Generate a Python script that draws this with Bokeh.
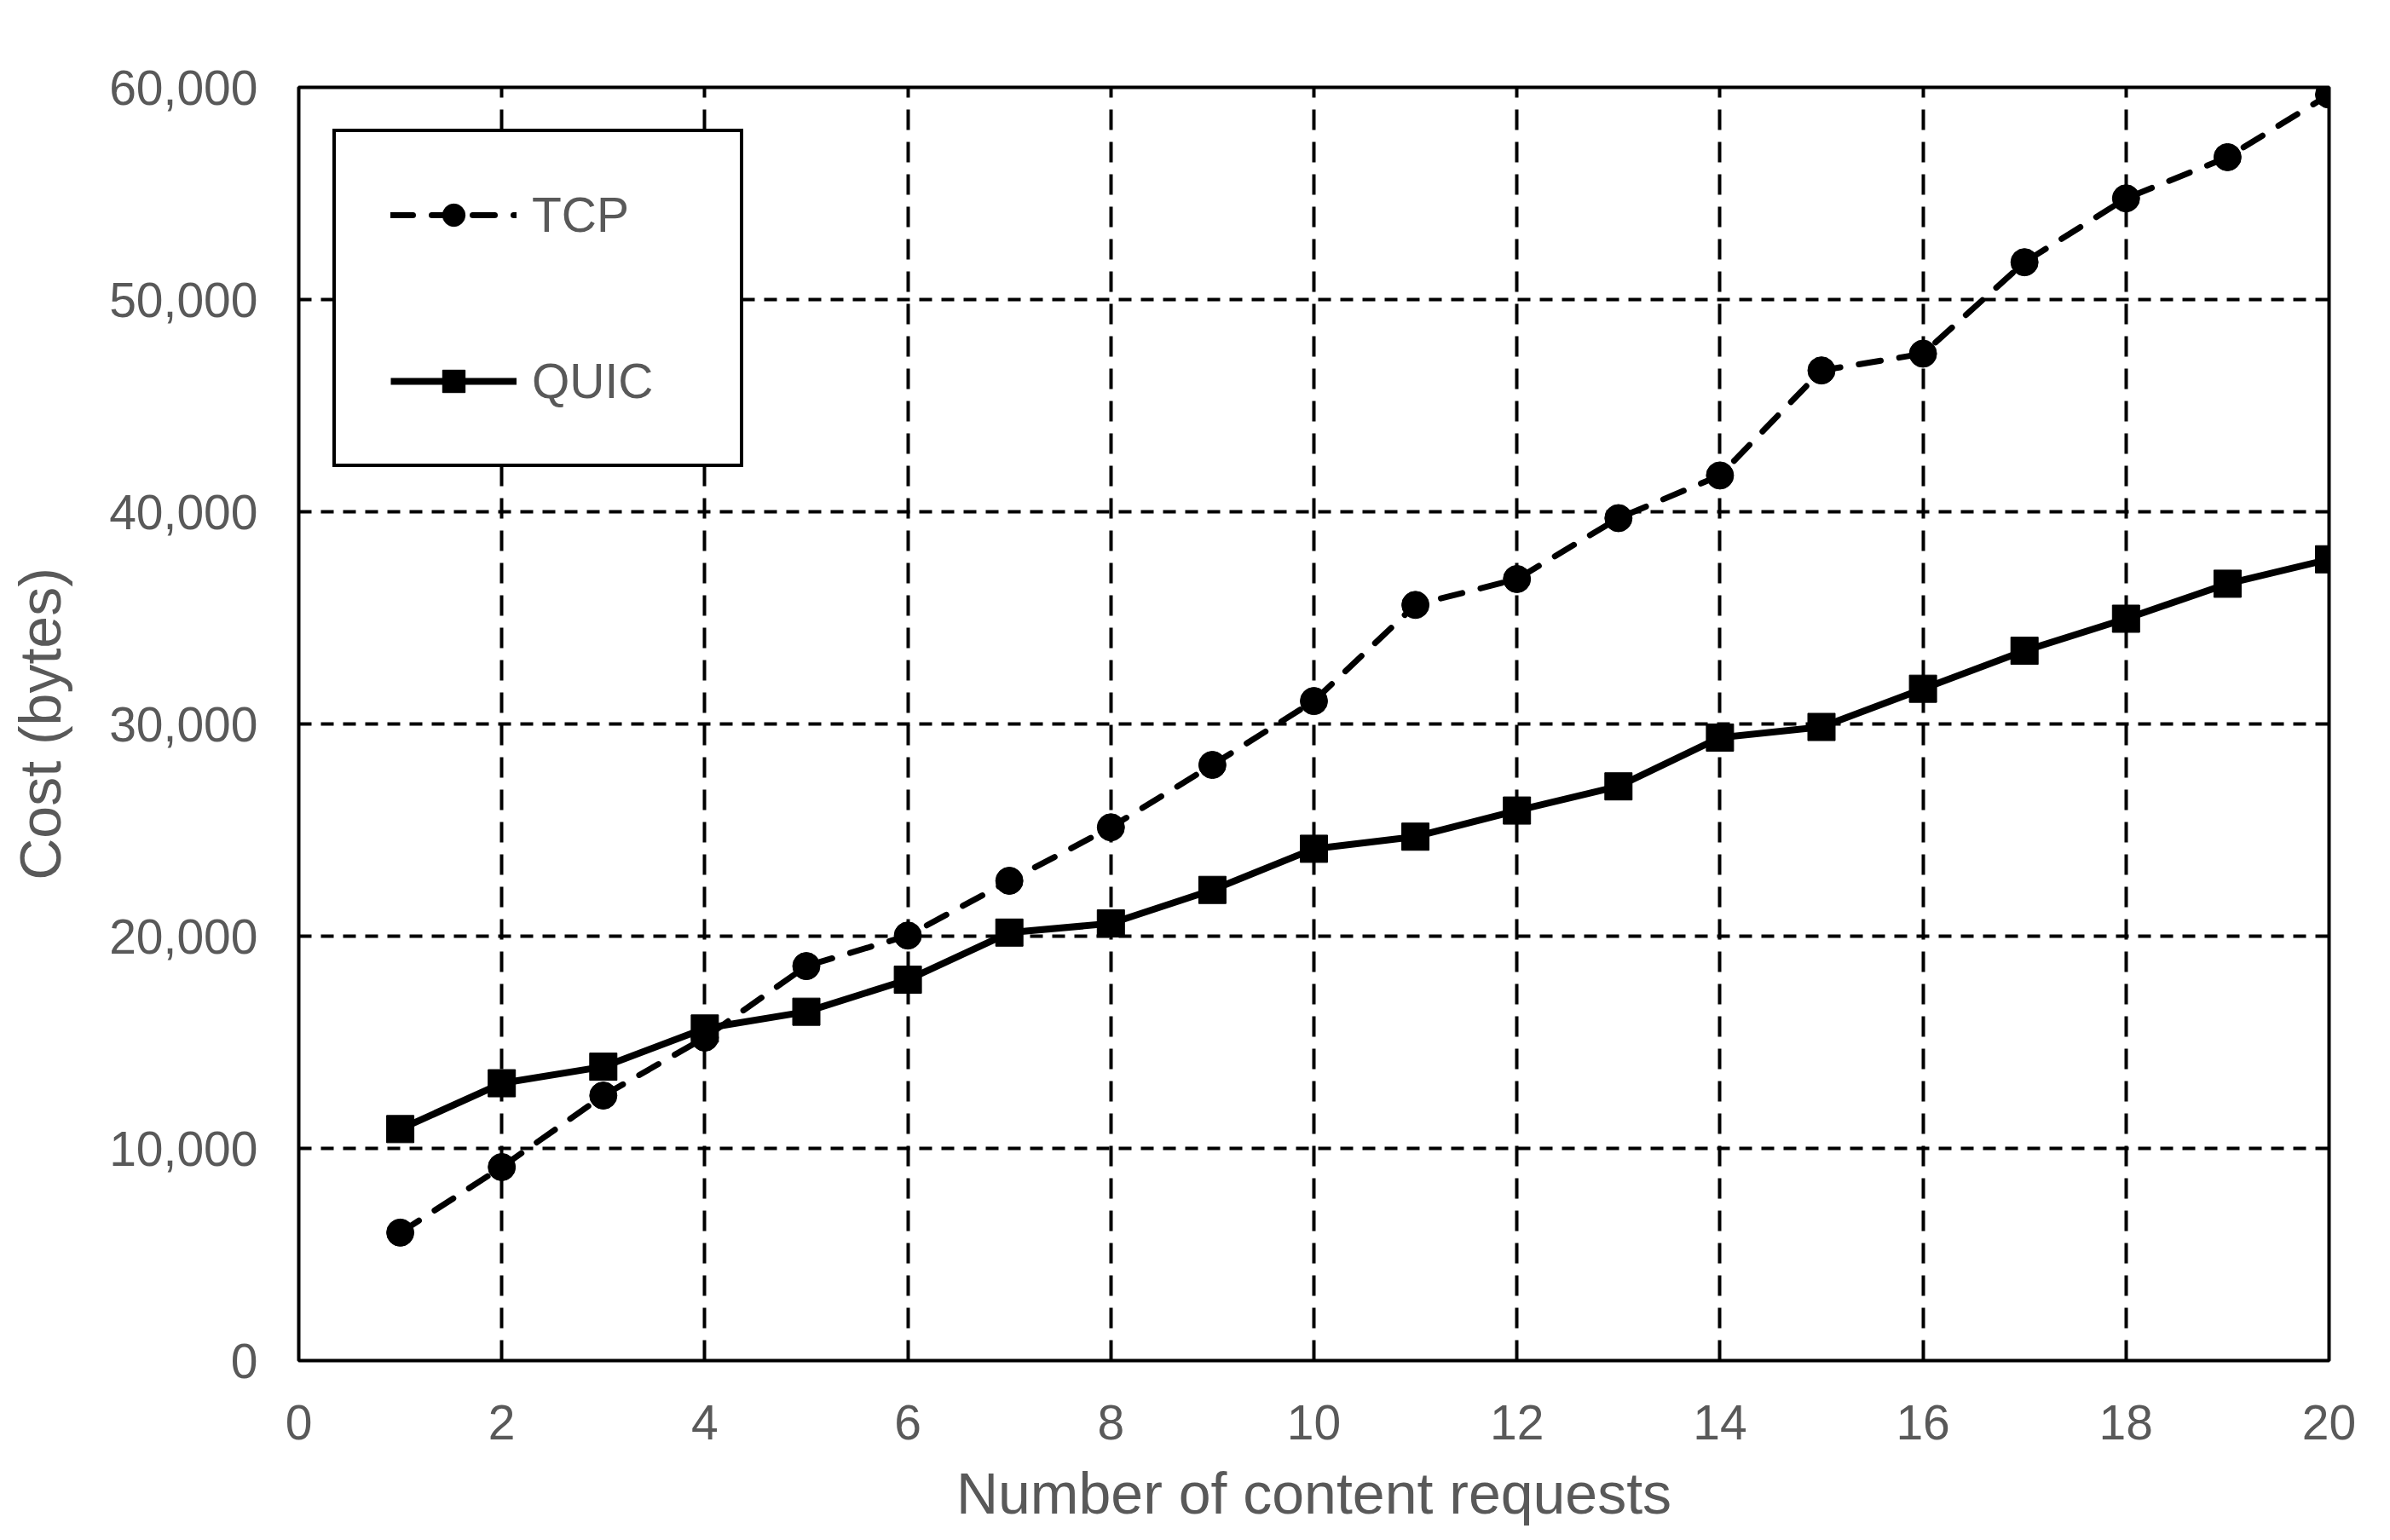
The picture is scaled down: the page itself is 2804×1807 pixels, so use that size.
from bokeh.plotting import figure
from bokeh.models import Legend, LegendItem, NumeralTickFormatter, FixedTicker, Range1d
from bokeh.embed import file_html
from bokeh.resources import INLINE

requests = list(range(1, 21))
tcp = [6030, 9120, 12490, 15220, 18590, 20030, 22610, 25130, 28070, 31080,
       35610, 36830, 39700, 41710, 46660, 47450, 51760, 54770, 56710, 59660]
quic = [10910, 13070, 13850, 15650, 16440, 17950, 20170, 20600, 22180, 24120,
        24690, 25920, 27060, 29360, 29860, 31660, 33450, 34960, 36610, 37760]
x_ticks = list(range(0, 21, 2))
y_ticks = list(range(0, 60001, 10000))

FONT = "Liberation Sans"
GREY = "#595959"

W, H = 2790, 1792
TOP = 102
p = figure(width=W, height=H, output_backend="svg", toolbar_location=None,
           x_range=Range1d(0, 20), y_range=Range1d(0, 60000),
           min_border_left=350, min_border_right=58, min_border_top=TOP,
           min_border_bottom=H - TOP - 1497)

p.outline_line_color = "black"
p.outline_line_width = 4
p.outline_line_alpha = 1
p.background_fill_color = "white"
p.border_fill_color = "white"

p.xaxis.ticker = FixedTicker(ticks=x_ticks)
p.yaxis.ticker = FixedTicker(ticks=y_ticks)
p.yaxis.formatter = NumeralTickFormatter(format="0,0")

for ax in (p.xaxis[0], p.yaxis[0]):
    ax.axis_line_color = None
    ax.major_tick_line_color = None
    ax.minor_tick_line_color = None
    ax.major_label_text_font = FONT
    ax.major_label_text_font_size = "57px"
    ax.major_label_text_color = GREY
    ax.axis_label_text_font = FONT
    ax.axis_label_text_font_size = "68px"
    ax.axis_label_text_font_style = "normal"
    ax.axis_label_text_color = GREY

p.xaxis.axis_label = "Number of content requests"
p.yaxis.axis_label = "Cost (bytes)"
p.xaxis.major_label_standoff = 46
p.yaxis.major_label_standoff = 42
p.xaxis.axis_label_standoff = 22
p.yaxis.axis_label_standoff = 40

p.xgrid.grid_line_color = "black"
p.xgrid.grid_line_width = 4
p.xgrid.grid_line_dash = "24 14"
p.ygrid.grid_line_color = "black"
p.ygrid.grid_line_width = 4
p.ygrid.grid_line_dash = "15 11"

l_tcp = p.line(requests, tcp, line_color="black", line_width=7,
               line_dash="26 22", line_cap="round")
m_tcp = p.scatter(requests, tcp, marker="circle", size=32,
                  fill_color="black", line_color="black")
l_quic = p.line(requests, quic, line_color="black", line_width=8)
m_quic = p.scatter(requests, quic, marker="square", size=32,
                   fill_color="black", line_color="black")

legend = Legend(items=[LegendItem(label="TCP", renderers=[l_tcp, m_tcp]),
                       LegendItem(label="QUIC", renderers=[l_quic, m_quic])],
                location=(40, 1048))
legend.border_line_color = "black"
legend.border_line_width = 4
legend.border_line_alpha = 1
legend.background_fill_color = "white"
legend.background_fill_alpha = 1
legend.label_text_font = FONT
legend.label_text_font_size = "57px"
legend.label_text_color = GREY
legend.glyph_width = 148
legend.glyph_height = 66
legend.label_height = 66
legend.label_standoff = 18
legend.padding = 64
legend.spacing = 129
legend.label_width = 180
legend.margin = 0
p.add_layout(legend, "center")

open("out.html", "w").write(file_html(p, INLINE))
